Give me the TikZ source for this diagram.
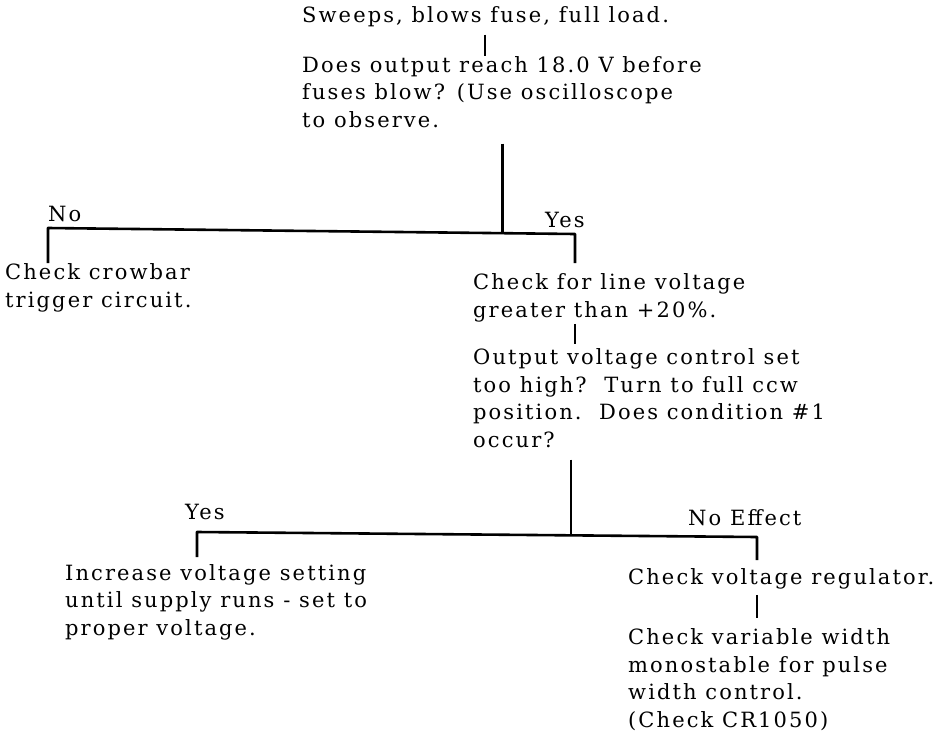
\documentclass[tikz,border=0pt]{standalone}
\usepackage{fontspec}
\setmainfont{DejaVu Serif}[LetterSpace=10]
\usetikzlibrary{calc,positioning}

\tikzset{
  txt/.style={anchor=base west, inner sep=0pt, align=left,
    font=\fontsize{21}{27.5}\selectfont},
  bar/.style={line width=2pt},
  branch/.style={line width=2.6pt, line join=round}
}

\begin{document}
\begin{tikzpicture}[x=1pt,y=-1pt]
  \useasboundingbox (0,0) rectangle (948,734);
  % question nodes (base = last line)
  \node[txt] (sweep) at (302,22) {Sweeps, blows fuse, full load.};
  \node[txt] (reach) at (302,127) {Does output reach 18.0 V before\\fuses blow? (Use oscilloscope\\to observe.};
  \node[txt] (no1) at (48,221) {No};
  \node[txt] (yes1) at (545,227) {Yes};
  \node[txt] (crowbar) at (5,307) {Check crowbar\\trigger circuit.};
  \node[txt] (linev) at (473,317) {Check for line voltage\\greater than +20\%.};
  \node[txt] (outv) at (473,447) {Output voltage control set\\too high?\ \ Turn to full ccw\\position.\ \ Does condition \#1\\occur?};
  \node[txt] (yes2) at (185,519) {Yes};
  \node[txt] (noeff) at (688,525) {No Effect};
  \node[txt] (incr) at (65,635) {Increase voltage setting\\until supply runs - set to\\proper voltage.};
  \node[txt] (reg) at (628,584) {Check voltage regulator.};
  \node[txt] (mono) at (628,727) {Check variable width\\monostable for pulse\\width control.\\(Check CR1050)};
  % branch corners and junctions
  \coordinate (l1) at (48,228);
  \coordinate (r1) at (575,234);
  \coordinate (j1) at ($(l1)!0.862!(r1)$);
  \coordinate (d1) at (48,263);
  \coordinate (d2) at (575,263);
  \coordinate (l2) at (197,532);
  \coordinate (r2) at (757,537);
  \coordinate (j2) at ($(l2)!0.668!(r2)$);
  \coordinate (d3) at (197,557);
  \coordinate (d4) at (757,560);
  % short bars
  \draw[bar] (sweep.south -| 485,0) ++(0,8) -- (reach.north -| 485,0);
  \draw[bar] (linev.south -| d2) ++(0,2) -- ++(0,20);
  \draw[bar] (reg.south -| d4) ++(0,6) -- ++(0,23);
  % first branch
  \draw[branch] (reach.south -| j1) ++(0,16) -- (j1);
  \draw[branch] (d1) -- (l1) -- (r1) -- (d2);
  % second branch
  \draw[branch] (outv.south -| j2) ++(0,12) -- (j2);
  \draw[branch] (d3) -- (l2) -- (r2) -- (d4);
\end{tikzpicture}
\end{document}
